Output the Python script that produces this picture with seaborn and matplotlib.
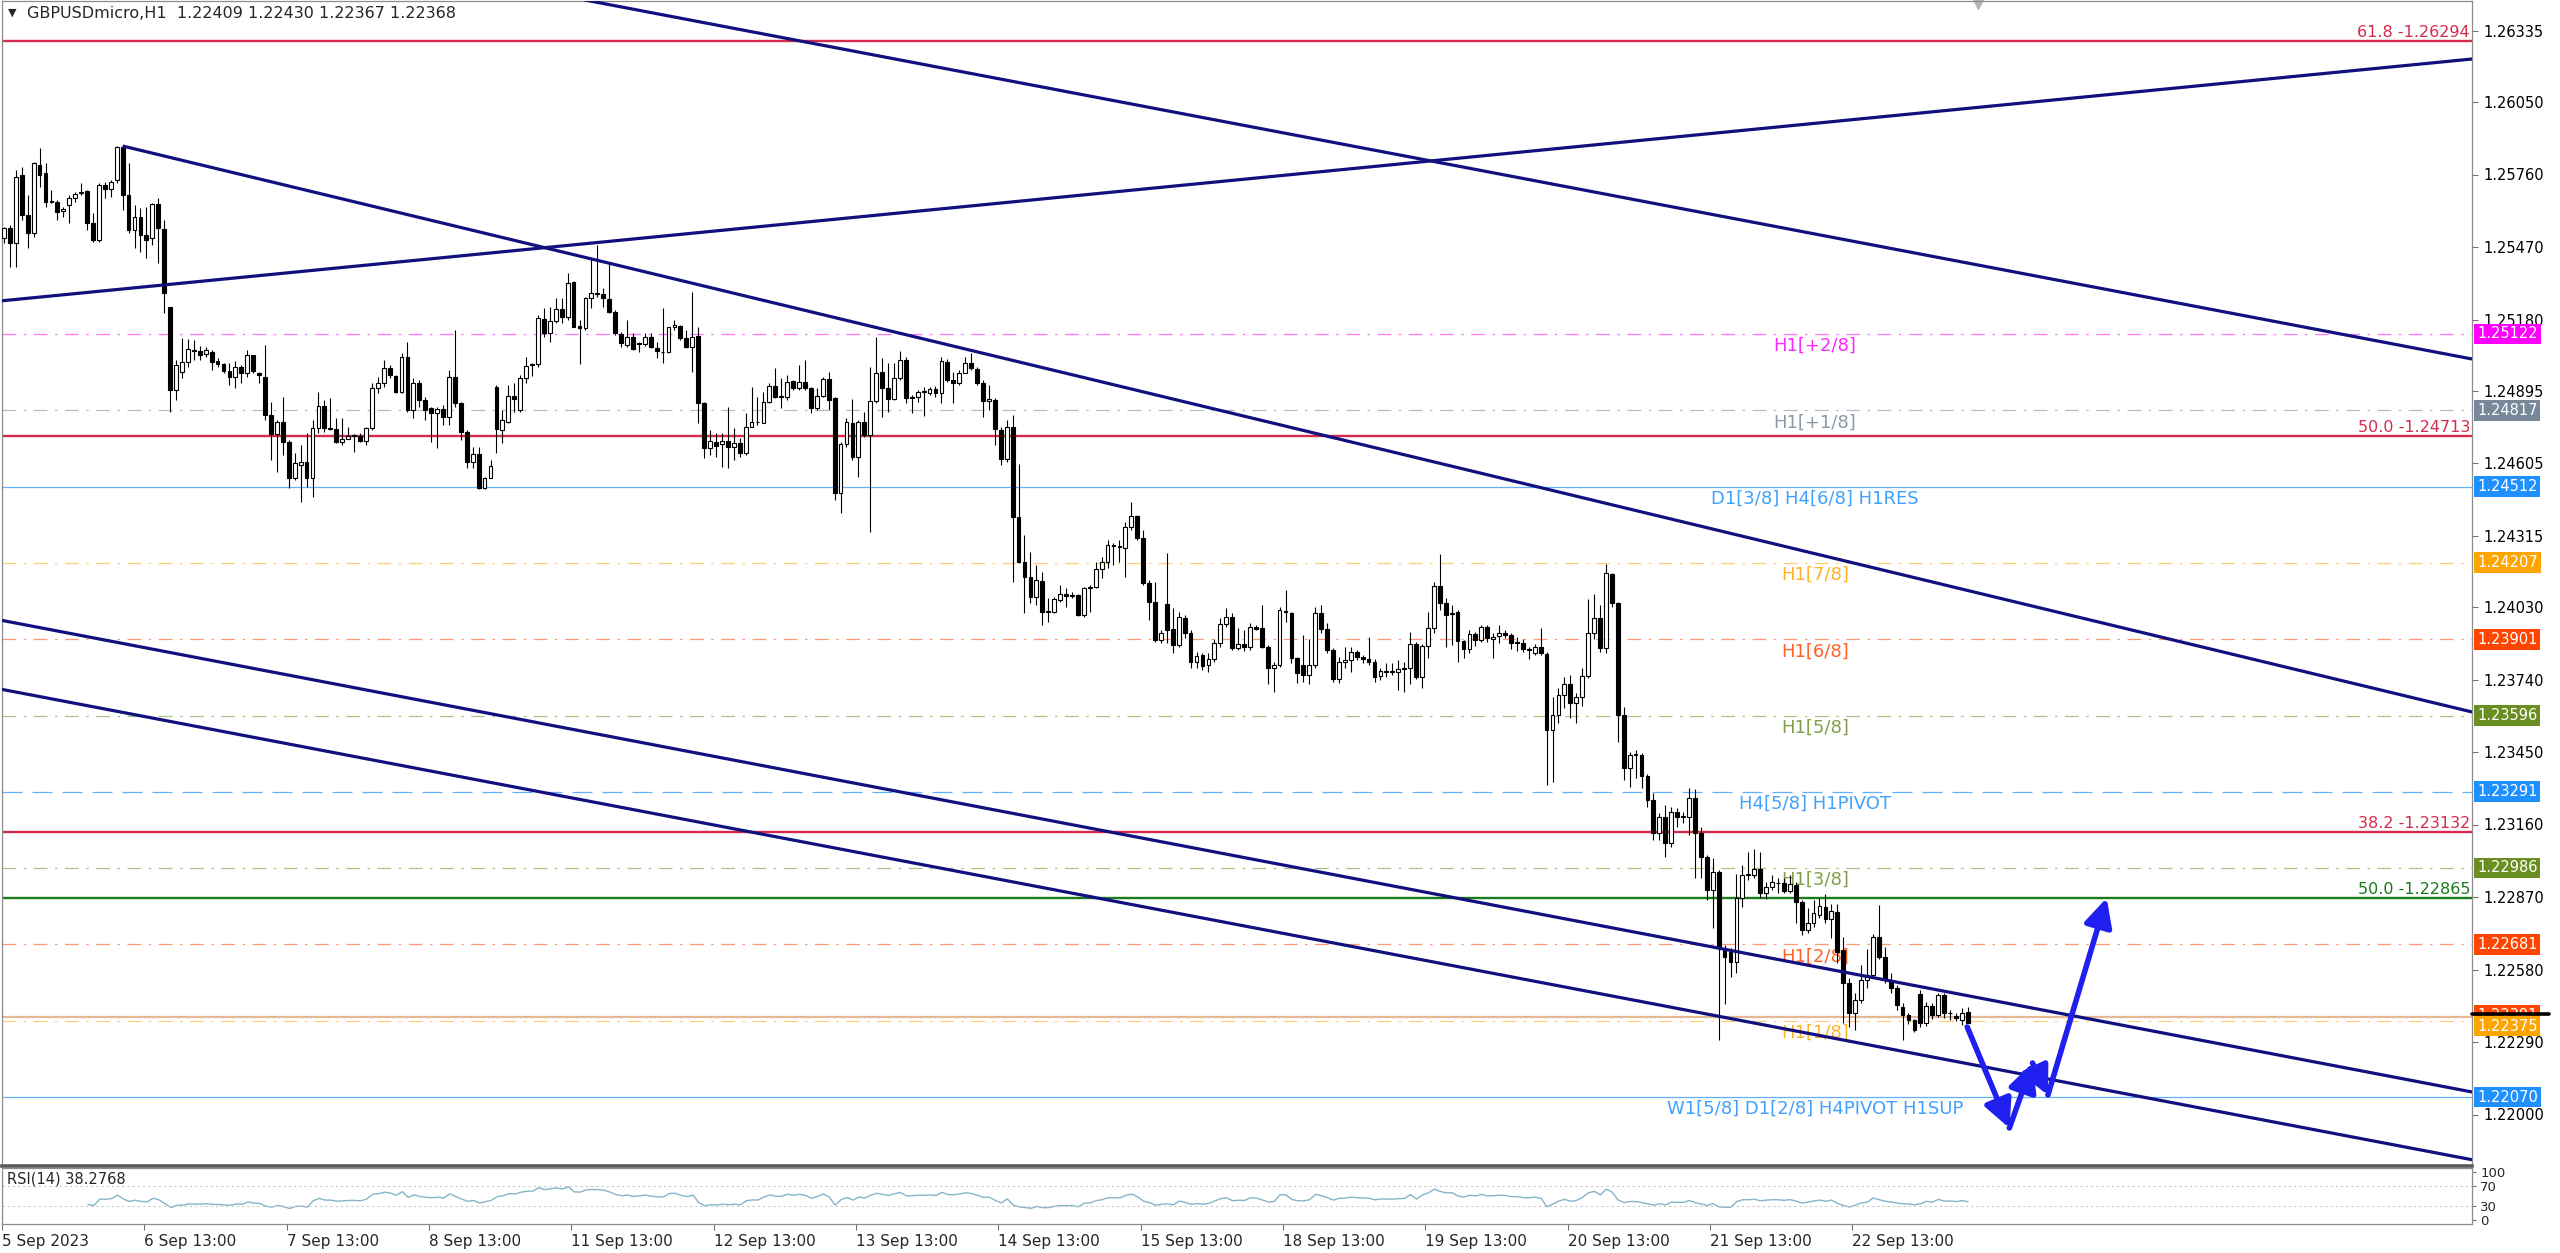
import numpy as np
import pandas as pd
import matplotlib
matplotlib.use("Agg")
import matplotlib.pyplot as plt
import seaborn as sns
from matplotlib.transforms import blended_transform_factory

# GBPUSDmicro H1 candles, values in pips above base_price
base_price = 1.22000
open_pips = [
    350.5, 354.5, 348.5, 375.8, 359.8, 352.5, 379.8, 376.5, 365.4, 365.1,
    361.5, 363.8, 366.5, 368.5, 369.4, 356.7, 349.8, 371.8, 370.1, 373.8,
    387.1, 367.8, 353.8, 358.9, 351.8, 350.5, 364.2, 354.2, 323.1, 289.8,
    297.1, 301.1, 305.5, 305.5, 304.2, 305.1, 301.5, 300.1, 297.5, 295.1,
    298.9, 296.7, 303.8, 296.7, 295.1, 279.8, 272.2, 277.1, 269.1, 254.5,
    259.8, 261.1, 254.5, 274.7, 283.4, 274.5, 274.1, 268.9, 270.1, 271.4,
    271.4, 269.5, 274.5, 290.5, 292.5, 298.5, 295.4, 289.1, 303.1, 281.8,
    292.7, 285.8, 282.5, 280.5, 282.1, 279.1, 294.9, 284.5, 273.1, 261.1,
    264.1, 250.5, 254.5, 291.1, 273.8, 277.1, 287.4, 281.8, 294.5, 299.8,
    300.2, 318.1, 312.7, 317.5, 322.1, 318.9, 333.1, 315.4, 314.5, 326.5,
    328.5, 328.2, 326.2, 321.1, 312.1, 307.8, 311.1, 308.4, 308.2, 311.1,
    306.8, 305.1, 304.9, 315.1, 315.4, 310.5, 307.1, 311.4, 284.5, 266.5,
    269.1, 268.2, 269.5, 266.9, 268.5, 264.5, 274.9, 277.1, 276.7, 285.1,
    291.4, 287.1, 286.9, 293.4, 290.5, 293.1, 290.5, 282.5, 287.4, 294.1,
    286.5, 248.7, 268.2, 276.7, 263.1, 277.1, 271.8, 285.5, 297.1, 290.5,
    286.1, 294.5, 301.8, 286.7, 286.9, 289.1, 288.7, 290.3, 288.7, 301.1,
    293.8, 292.7, 296.7, 300.5, 298.1, 292.7, 285.5, 285.8, 273.8, 262.1,
    275.1, 239.1, 221.1, 215.1, 207.1, 213.5, 201.1, 201.1, 205.8, 208.2,
    207.5, 207.8, 199.8, 210.5, 211.1, 218.1, 221.1, 227.6, 227.4, 226.5,
    235.1, 239.4, 230.5, 212.5, 205.1, 189.8, 204.2, 194.1, 187.8, 198.8,
    192.8, 181.1, 183.8, 179.8, 182.1, 188.7, 196.2, 199.1, 186.5, 188.2,
    186.9, 195.1, 194.5, 187.1, 178.5, 179.8, 201.4, 200.8, 182.5, 179.8,
    175.8, 179.8, 200.5, 194.1, 185.8, 174.1, 181.1, 181.8, 185.1, 183.1,
    182.1, 181.1, 175.4, 177.5, 177.1, 177.1, 178.1, 178.5, 188.2, 175.1,
    187.4, 194.5, 211.4, 204.5, 200.1, 200.8, 189.5, 186.1, 192.2, 189.8,
    195.1, 190.1, 191.4, 192.7, 191.8, 189.1, 188.7, 186.1, 184.8, 187.1,
    184.2, 153.8, 159.8, 167.8, 172.2, 164.7, 167.1, 175.4, 192.5, 198.5,
    186.5, 216.1, 204.5, 159.8, 138.5, 143.8, 143.8, 135.4, 125.8, 112.5,
    118.9, 108.5, 121.1, 119.1, 119.1, 126.5, 112.5, 103.1, 89.8, 97.1,
    66.5, 65.1, 61.1, 86.5, 95.8, 95.8, 98.1, 88.5, 91.1, 92.5,
    92.8, 89.5, 91.8, 85.1, 73.8, 76.8, 79.8, 83.1, 78.1, 81.1,
    65.8, 52.5, 40.5, 45.8, 53.8, 55.8, 71.1, 63.1, 53.8, 50.5,
    43.1, 39.8, 37.8, 48.2, 36.5, 43.4, 39.8, 47.8, 40.5, 39.5,
    37.8, 40.9,
]
high_pips = [
    355.1, 356.0, 377.8, 379.1, 367.8, 381.1, 386.5, 380.5, 369.8, 365.8,
    363.1, 367.8, 369.1, 372.5, 369.8, 360.5, 372.5, 373.1, 373.8, 387.4,
    387.4, 380.5, 363.8, 362.5, 363.1, 364.5, 366.5, 357.8, 323.1, 301.8,
    310.5, 310.1, 309.8, 307.4, 306.9, 305.8, 302.5, 300.5, 300.5, 301.5,
    299.8, 305.8, 303.8, 297.1, 307.8, 285.1, 277.8, 287.1, 269.8, 264.5,
    267.8, 272.5, 277.8, 289.1, 285.8, 286.5, 278.5, 278.5, 275.1, 272.2,
    272.5, 275.1, 292.5, 295.1, 301.8, 299.8, 295.8, 304.5, 309.1, 294.5,
    294.0, 287.1, 283.1, 283.1, 284.0, 297.8, 313.8, 285.1, 273.8, 267.1,
    267.1, 255.1, 261.8, 291.8, 281.8, 291.8, 292.5, 295.8, 303.1, 300.7,
    319.8, 322.5, 323.1, 326.5, 326.5, 336.7, 333.5, 317.8, 327.1, 343.1,
    347.8, 330.5, 340.5, 321.8, 313.1, 317.8, 312.5, 309.1, 312.5, 312.5,
    309.1, 322.5, 315.1, 317.8, 315.8, 313.8, 329.1, 315.1, 285.1, 273.8,
    272.5, 272.5, 283.1, 274.5, 270.5, 280.5, 291.1, 287.1, 289.1, 292.5,
    298.5, 294.5, 295.8, 293.8, 299.8, 301.8, 291.1, 290.5, 295.1, 297.1,
    287.1, 269.1, 278.5, 286.1, 277.8, 281.1, 299.1, 311.1, 302.5, 300.5,
    300.5, 305.5, 303.1, 287.8, 289.8, 290.9, 291.1, 291.4, 303.1, 302.1,
    297.1, 297.8, 303.1, 304.5, 299.1, 293.8, 291.8, 286.5, 275.1, 277.8,
    279.8, 260.2, 231.8, 225.1, 219.8, 217.1, 206.5, 207.1, 211.8, 210.5,
    209.1, 208.2, 211.1, 211.8, 221.1, 223.1, 229.8, 228.5, 229.8, 237.1,
    245.1, 239.8, 233.8, 213.8, 213.1, 193.8, 224.7, 202.5, 201.1, 199.8,
    193.8, 185.1, 184.5, 184.5, 190.1, 198.5, 202.5, 200.5, 194.5, 193.8,
    196.5, 195.8, 203.8, 187.8, 181.1, 203.1, 209.8, 201.1, 183.1, 191.8,
    190.1, 203.1, 203.8, 196.5, 186.5, 183.1, 187.1, 187.1, 185.8, 183.8,
    191.1, 182.1, 178.5, 180.5, 180.5, 181.8, 181.1, 193.1, 189.1, 188.1,
    201.1, 213.1, 224.1, 206.5, 203.8, 201.8, 189.8, 193.8, 193.1, 195.8,
    195.8, 192.5, 195.8, 193.8, 192.5, 191.1, 190.1, 187.1, 188.1, 194.5,
    185.1, 167.1, 170.5, 175.1, 175.8, 168.5, 178.5, 206.1, 208.1, 203.8,
    220.1, 216.5, 205.1, 163.1, 145.1, 145.8, 144.5, 136.1, 128.5, 120.5,
    123.8, 123.1, 122.5, 121.1, 130.5, 130.1, 115.1, 103.8, 102.5, 97.8,
    67.8, 66.8, 96.1, 99.8, 105.1, 106.1, 105.1, 93.1, 95.8, 94.5,
    94.5, 95.8, 93.1, 85.8, 82.5, 85.8, 86.8, 88.1, 84.1, 84.1,
    71.1, 54.5, 48.8, 59.8, 66.1, 72.1, 83.8, 67.1, 56.5, 51.8,
    44.5, 40.5, 38.1, 49.8, 45.1, 44.5, 48.8, 48.8, 41.8, 40.5,
    42.5, 43.0,
]
low_pips = [
    348.5, 339.0, 339.0, 357.8, 346.5, 351.1, 371.1, 363.1, 364.5, 357.8,
    359.1, 356.5, 365.1, 367.8, 353.8, 349.1, 349.1, 366.5, 367.1, 372.5,
    361.8, 352.5, 346.5, 345.1, 342.5, 347.8, 340.5, 320.5, 281.1, 285.8,
    294.5, 299.1, 301.8, 301.8, 303.1, 297.8, 298.9, 296.5, 291.8, 290.5,
    292.5, 295.1, 296.5, 292.5, 277.8, 261.8, 257.1, 263.8, 250.5, 253.8,
    245.1, 251.1, 247.1, 272.5, 273.1, 273.8, 268.5, 267.8, 270.1, 265.1,
    269.1, 267.8, 273.8, 288.5, 291.1, 294.5, 288.5, 288.5, 281.1, 278.5,
    283.0, 277.8, 269.1, 266.5, 275.8, 275.8, 283.1, 269.8, 258.5, 258.5,
    250.1, 250.1, 254.5, 264.5, 268.5, 276.5, 281.1, 281.1, 292.5, 295.4,
    299.1, 311.1, 309.1, 316.5, 316.5, 317.8, 314.9, 300.2, 313.8, 322.5,
    326.9, 323.1, 320.5, 311.8, 307.1, 307.1, 305.8, 305.1, 307.4, 306.5,
    302.5, 300.5, 304.5, 313.8, 309.8, 306.5, 297.1, 276.5, 262.5, 263.8,
    263.1, 259.1, 258.5, 261.8, 263.1, 263.8, 275.1, 275.8, 276.5, 284.5,
    286.5, 282.5, 285.8, 289.8, 289.8, 289.8, 280.5, 281.8, 287.1, 281.8,
    245.8, 240.5, 267.1, 261.8, 255.1, 271.1, 233.1, 284.5, 279.1, 281.1,
    285.8, 293.8, 284.7, 280.5, 285.1, 279.4, 287.8, 286.9, 284.5, 293.1,
    284.5, 291.8, 296.5, 297.8, 291.8, 279.1, 281.8, 267.8, 259.8, 261.1,
    213.1, 220.5, 200.5, 204.5, 203.8, 195.8, 197.1, 200.5, 205.1, 203.1,
    206.5, 199.4, 199.1, 201.1, 210.5, 214.5, 218.5, 219.8, 221.1, 215.1,
    233.8, 229.8, 211.8, 197.8, 189.1, 188.5, 188.5, 184.5, 187.1, 190.5,
    178.5, 178.5, 177.8, 177.1, 181.1, 187.1, 195.1, 185.8, 186.0, 185.5,
    185.8, 193.8, 186.5, 172.1, 169.1, 179.1, 197.1, 180.5, 172.5, 173.1,
    172.1, 178.5, 192.5, 184.5, 173.1, 172.5, 178.5, 177.1, 181.8, 180.8,
    179.8, 173.1, 173.8, 175.1, 175.8, 169.8, 169.1, 172.1, 174.1, 170.5,
    182.5, 192.5, 201.8, 187.1, 187.8, 181.1, 182.8, 184.8, 187.5, 189.1,
    189.1, 182.5, 188.8, 190.8, 186.1, 185.5, 185.1, 182.1, 183.8, 183.8,
    131.8, 133.1, 156.5, 162.5, 158.8, 156.5, 163.5, 174.5, 190.1, 185.1,
    184.5, 203.1, 149.1, 133.8, 131.1, 134.5, 130.5, 123.1, 109.8, 109.8,
    103.1, 107.1, 115.1, 116.8, 111.8, 94.5, 94.5, 85.8, 74.5, 29.8,
    44.1, 55.1, 56.5, 83.1, 93.8, 94.5, 86.8, 86.1, 89.8, 88.5,
    88.5, 88.8, 76.5, 71.8, 72.5, 75.1, 78.5, 76.8, 70.8, 60.5,
    36.8, 35.1, 33.8, 44.5, 50.5, 54.5, 62.1, 52.5, 48.5, 41.8,
    29.8, 36.1, 33.1, 35.1, 35.5, 38.1, 39.1, 38.8, 37.8, 37.5,
    35.8, 36.7,
]
close_pips = [
    354.5, 348.5, 375.1, 359.8, 352.5, 380.5, 375.8, 365.1, 364.9, 361.1,
    362.1, 366.5, 368.1, 369.1, 356.7, 349.8, 371.8, 370.1, 373.1, 387.1,
    367.8, 353.8, 358.9, 351.8, 349.8, 364.2, 354.5, 328.5, 289.8, 299.8,
    301.1, 306.1, 305.8, 303.8, 305.8, 301.1, 300.2, 297.5, 295.1, 298.9,
    296.7, 303.8, 297.5, 295.7, 279.8, 272.2, 277.1, 269.1, 254.5, 260.5,
    261.1, 254.5, 274.7, 283.4, 274.5, 274.2, 269.1, 270.1, 271.4, 271.5,
    269.5, 274.7, 290.5, 292.5, 298.5, 295.8, 289.1, 303.1, 281.8, 292.7,
    285.8, 281.8, 280.5, 282.1, 279.1, 294.9, 284.5, 273.1, 261.1, 264.1,
    250.5, 254.5, 259.4, 274.1, 277.8, 287.4, 286.1, 294.5, 299.4, 300.2,
    318.5, 312.7, 317.5, 322.1, 318.9, 332.7, 315.1, 314.5, 326.5, 328.7,
    328.2, 326.5, 321.1, 312.5, 308.5, 311.1, 306.1, 308.2, 310.9, 307.1,
    305.5, 304.9, 315.1, 315.8, 310.5, 307.1, 311.1, 284.5, 266.5, 269.5,
    267.4, 269.5, 267.1, 268.5, 264.5, 274.9, 277.1, 276.9, 285.1, 291.4,
    287.1, 287.3, 293.1, 290.5, 293.1, 290.5, 282.5, 287.4, 294.1, 285.8,
    248.7, 268.2, 277.1, 263.1, 277.1, 271.8, 285.5, 296.5, 290.5, 286.1,
    294.5, 301.8, 286.5, 286.9, 289.1, 289.2, 290.3, 288.7, 301.5, 293.8,
    292.7, 296.7, 300.5, 298.5, 292.7, 285.5, 286.1, 274.1, 262.1, 275.1,
    239.1, 221.1, 215.1, 207.1, 213.8, 201.1, 201.3, 206.1, 208.2, 207.5,
    207.8, 199.8, 210.5, 211.1, 218.1, 221.1, 227.8, 227.4, 226.9, 235.1,
    239.4, 230.5, 212.5, 205.1, 189.8, 192.5, 193.8, 187.8, 199.1, 192.5,
    181.1, 183.4, 179.4, 182.1, 188.7, 196.2, 198.9, 186.5, 188.2, 186.9,
    195.1, 194.1, 187.1, 178.5, 179.8, 201.8, 201.1, 182.5, 176.5, 175.8,
    179.8, 200.5, 194.1, 185.8, 174.1, 181.1, 181.8, 185.1, 183.1, 182.1,
    181.1, 175.1, 177.5, 177.1, 177.1, 178.1, 178.5, 188.2, 175.1, 187.4,
    194.5, 211.4, 204.5, 199.8, 200.5, 189.5, 186.1, 192.2, 189.8, 195.1,
    190.5, 191.1, 192.7, 191.8, 188.7, 188.7, 186.1, 185.8, 187.1, 184.7,
    153.8, 159.8, 167.8, 172.2, 164.7, 167.1, 175.4, 192.5, 198.5, 186.5,
    216.5, 204.5, 159.8, 138.5, 143.8, 143.8, 135.4, 125.8, 112.5, 118.9,
    108.5, 121.1, 119.1, 119.1, 126.5, 112.5, 103.1, 89.8, 97.1, 66.5,
    63.1, 61.1, 86.5, 95.8, 96.1, 98.1, 88.5, 91.1, 93.1, 92.5,
    89.5, 92.2, 85.1, 73.8, 76.8, 80.5, 83.4, 78.1, 81.5, 65.1,
    52.5, 40.5, 45.8, 53.8, 55.8, 71.1, 63.1, 53.8, 50.5, 43.8,
    39.8, 37.8, 33.8, 36.5, 43.4, 39.8, 47.8, 40.5, 40.5, 38.5,
    40.7, 36.8,
]

date_labels = ["5 Sep 2023", "6 Sep 13:00", "7 Sep 13:00", "8 Sep 13:00", "11 Sep 13:00",
               "12 Sep 13:00", "13 Sep 13:00", "14 Sep 13:00", "15 Sep 13:00", "18 Sep 13:00",
               "19 Sep 13:00", "20 Sep 13:00", "21 Sep 13:00", "22 Sep 13:00"]
bars_per_label = 24

price_ticks = [1.26335, 1.26050, 1.25760, 1.25470, 1.25180, 1.24895, 1.24605, 1.24315,
               1.24030, 1.23740, 1.23450, 1.23160, 1.22870, 1.22580, 1.22290, 1.22000]

# fibo levels
fib_prices = [1.26294, 1.24713, 1.23132, 1.22865]
fib_labels = ["61.8 -1.26294", "50.0 -1.24713", "38.2 -1.23132", "50.0 -1.22865"]
fib_colors = ["#d42a4e", "#d42a4e", "#d42a4e", "#1b7a1b"]

# murrey math levels
mm_prices = [1.25122, 1.24817, 1.24512, 1.24207, 1.23901, 1.23596, 1.23291, 1.22986, 1.22681, 1.22375, 1.22070]
mm_labels = ["H1[+2/8]", "H1[+1/8]", "D1[3/8] H4[6/8] H1RES", "H1[7/8]", "H1[6/8]", "H1[5/8]",
             "H4[5/8] H1PIVOT", "H1[3/8]", "H1[2/8]", "H1[1/8]", "W1[5/8] D1[2/8] H4PIVOT H1SUP"]
mm_colors = ["#ff00ff", "#778899", "#1e90ff", "#ffa500", "#ff4500", "#6b8e23",
             "#1e90ff", "#6b8e23", "#ff4500", "#ffa500", "#1e90ff"]
mm_styles = ["dashdot", "dashdot", "solid", "dashdot", "dashdot", "dashdot",
             "dashed", "dashdot", "dashdot", "dashdot", "solid"]
mm_label_bar = 305.2
pivot_price = 1.22391   # solid tan line just above H1[1/8]
bid_price = 1.22402

# trendlines: (bar, price) anchors
trend_lines = [
    [(97.9, 1.26458), (416.0, 1.25022)],
    [(-0.7, 1.25254), (416.0, 1.26222)],
    [(20.0, 1.25874), (416.0, 1.23610)],
    [(-0.7, 1.23978), (416.0, 1.22090)],
    [(-0.7, 1.23702), (416.0, 1.21819)],
]

# projected path drawn with arrows
arrow_bars = [330.9, 338.0, 341.9, 344.5, 354.4]
arrow_prices = [1.22350, 1.21946, 1.22206, 1.22078, 1.22866]

rsi_period = 14
rsi_levels = [100, 70, 30, 0]

# ---------------------------------------------------------------
pip = 0.0001
o = base_price + np.array(open_pips) * pip
h = base_price + np.array(high_pips) * pip
l = base_price + np.array(low_pips) * pip
c = base_price + np.array(close_pips) * pip
n = len(c)
assert len(o) == len(h) == len(l) == n
bars = np.arange(n)

sns.set_style("white")
plt.rcParams['font.family'] = ['DejaVu Sans']

W, H = 2560, 1253
fig = plt.figure(figsize=(W / 100, H / 100), dpi=100)
ax = fig.add_axes([2 / W, 1 - 1166 / H, 2470 / W, 1165 / H])
ax2 = fig.add_axes([2 / W, 1 - 1224 / H, 2470 / W, 56 / H])

x_lo, x_hi = (2 - 4) / 5.933, (2472 - 4) / 5.933
ax.set_xlim(x_lo, x_hi)
ax.set_ylim(1.21794, 1.26454)
ax2.set_xlim(x_lo, x_hi)

# horizontal levels
dash_styles = {"dashdot": (0, (11, 6, 2, 6)), "dashed": (0, (16, 8)), "solid": "-"}
for p, col, st in zip(mm_prices, mm_colors, mm_styles):
    alpha = 0.55 if st == "dashdot" else 0.7
    ax.axhline(p, color=col, lw=0.9, ls=dash_styles[st], alpha=alpha, zorder=1)
for p, lab, col in zip(mm_prices, mm_labels, mm_colors):
    ax.annotate(lab, xy=(mm_label_bar, p), xytext=(0, -3), textcoords='offset pixels',
                ha='center', va='top', fontsize=13, color=col, alpha=0.85, zorder=1.5)
ax.axhline(pivot_price, color='#e6b894', lw=1.6, zorder=1)

trans = blended_transform_factory(ax.transAxes, ax.transData)
for p, lab, col in zip(fib_prices, fib_labels, fib_colors):
    ax.axhline(p, color=col, lw=1.7, zorder=1.2)
    ax.annotate(lab, xy=(1.0, p), xycoords=trans, xytext=(-2, 1), textcoords='offset pixels',
                ha='right', va='bottom', fontsize=11.5, color=col, zorder=1.5)

# candles
up = c >= o
body_lo = np.minimum(o, c)
body_h = np.maximum(np.abs(c - o), 0.3 * pip)
ax.vlines(bars, l, h, color='black', lw=0.8, zorder=3)
ax.bar(bars[up], body_h[up], bottom=body_lo[up], width=0.64, color='white',
       edgecolor='black', linewidth=0.8, zorder=4)
ax.bar(bars[~up], body_h[~up], bottom=body_lo[~up], width=0.64, color='black',
       edgecolor='black', linewidth=0.8, zorder=4)

# trendlines
for (b0, p0), (b1, p1) in trend_lines:
    ax.plot([b0, b1], [p0, p1], color='#10107e', lw=2.3, solid_capstyle='butt', zorder=5)

# projected path
for i in range(len(arrow_bars) - 1):
    ax.annotate('', xy=(arrow_bars[i + 1], arrow_prices[i + 1]),
                xytext=(arrow_bars[i], arrow_prices[i]),
                arrowprops=dict(arrowstyle='-|>,head_length=1.0,head_width=0.5',
                                color='#1f1ff0', lw=4.0, mutation_scale=17,
                                shrinkA=0, shrinkB=0), zorder=6)

# price axis
ax.yaxis.tick_right()
ax.set_yticks(price_ticks)
ax.set_yticklabels([f"{t:.5f}" for t in price_ticks])
ax.tick_params(axis='y', right=True, length=4, width=0.75, color='#707070', pad=4,
               labelsize=10.5, labelcolor='black')
ax.set_xticks([])

box_offsets = {1.22375: -0.00021}
for p, col in zip(mm_prices, mm_colors):
    if abs(p - 1.22375) < 1e-9:
        continue
    ax.annotate(f"{p:.5f}", xy=(1.0, p), xycoords=trans, xytext=(5, 0), textcoords='offset pixels',
                ha='left', va='center', fontsize=10.5, color='white', annotation_clip=False,
                bbox=dict(boxstyle='square,pad=0.2', fc=col, ec='none'), zorder=7)
ax.annotate(f"{pivot_price:.5f}", xy=(1.0, pivot_price + 0.00006), xycoords=trans, xytext=(5, 0),
            textcoords='offset pixels', ha='left', va='center', fontsize=10.5, color='white',
            annotation_clip=False, bbox=dict(boxstyle='square,pad=0.2', fc='#ff4500', ec='none'), zorder=7)
ax.plot([1.0, 1.031], [bid_price, bid_price], transform=trans, color='black', lw=2.6,
        clip_on=False, zorder=8)
ax.annotate("1.22375", xy=(1.0, 1.22375 + box_offsets[1.22375]), xycoords=trans, xytext=(5, 0),
            textcoords='offset pixels', ha='left', va='center', fontsize=10.5, color='white',
            annotation_clip=False, bbox=dict(boxstyle='square,pad=0.2', fc='#ffa500', ec='none'), zorder=9)

for side in ['left', 'right', 'top']:
    ax.spines[side].set_color('#8c8c8c')
    ax.spines[side].set_linewidth(0.9)
ax.spines['bottom'].set_color('#5a5a5a')
ax.spines['bottom'].set_linewidth(2.6)

# title and shift marker
fig.text(8 / W, 1 - 13 / H, "▼", fontsize=8, va='center', ha='left')
fig.text(27 / W, 1 - 13 / H, "GBPUSDmicro,H1  1.22409 1.22430 1.22367 1.22368",
         fontsize=11.5, va='center', ha='left')
ax.plot([0.8], [1.0], transform=ax.transAxes, marker='v', ms=11, color='#b4b4b4',
        clip_on=False, zorder=2)

# RSI panel
close_s = pd.Series(c)
delta = close_s.diff()
gain = delta.clip(lower=0).ewm(alpha=1 / rsi_period, adjust=False, min_periods=rsi_period).mean()
loss = (-delta.clip(upper=0)).ewm(alpha=1 / rsi_period, adjust=False, min_periods=rsi_period).mean()
rsi = 100 - 100 / (1 + gain / loss)
rsi_df = pd.DataFrame({"bar": bars, "rsi": rsi})
sns.lineplot(data=rsi_df, x="bar", y="rsi", ax=ax2, color='#86b4c9', lw=1.0)
for lvl in (70, 30):
    ax2.axhline(lvl, color='#c4c4c4', lw=0.75, ls=(0, (2, 3)))
ax2.set_ylim(-8, 108)
ax2.yaxis.tick_right()
ax2.set_yticks(rsi_levels)
ax2.set_yticklabels([str(v) for v in rsi_levels])
ax2.tick_params(axis='y', right=True, length=3, width=0.75, color='#707070', pad=3,
                labelsize=9.5)
ax2.set_xlabel("")
ax2.set_ylabel("")
ax2.text(0.002, 0.93, "RSI(14) 38.2768", transform=ax2.transAxes, va='top', ha='left', fontsize=10.5)

tick_bars = np.arange(len(date_labels)) * bars_per_label - 0.5
ax2.set_xticks(tick_bars)
ax2.set_xticklabels(date_labels)
for lab in ax2.get_xticklabels():
    lab.set_horizontalalignment('left')
ax2.tick_params(axis='x', bottom=True, length=4, width=0.75, color='#707070', pad=3,
                labelsize=11)
for side in ['left', 'right', 'top', 'bottom']:
    ax2.spines[side].set_color('#8c8c8c')
    ax2.spines[side].set_linewidth(0.9)

fig.savefig("out.png", dpi=100)
